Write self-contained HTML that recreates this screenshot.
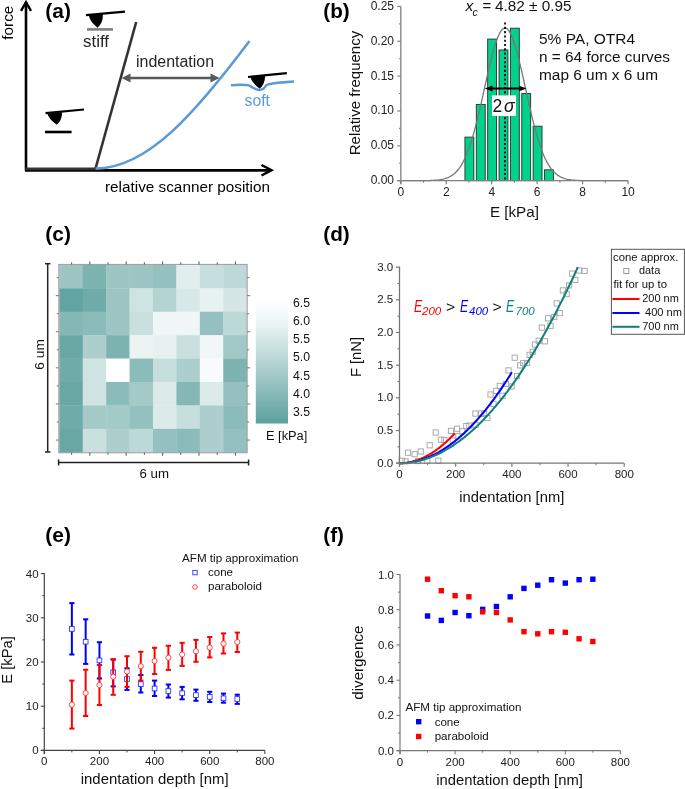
<!DOCTYPE html>
<html><head><meta charset="utf-8"><style>
html,body{margin:0;padding:0;background:#fff;width:685px;height:789px;overflow:hidden}
svg{display:block;will-change:transform}
text{font-family:"Liberation Sans", sans-serif}
</style></head><body>
<svg width="685" height="789" viewBox="0 0 685 789">
<rect width="685" height="789" fill="#fff"/>
<g id="pa">
<line x1="26" y1="170.5" x2="26" y2="2" stroke="#000" stroke-width="2.6"/>
<polyline points="21,10.8 26,2.2 31,10.8" fill="none" stroke="#000" stroke-width="2.4" stroke-linejoin="miter"/>
<line x1="25" y1="170.3" x2="271" y2="170.3" stroke="#000" stroke-width="2.7"/>
<line x1="25.5" y1="168.8" x2="96" y2="168.8" stroke="#333" stroke-width="2.7"/>
<polyline points="261.5,165 271.5,170.2 261.5,175.5" fill="none" stroke="#000" stroke-width="2.5"/>
<line x1="95.4" y1="169" x2="136.2" y2="22" stroke="#333" stroke-width="2.6"/>
<path d="M95.6,168.6 C148,168.4 196,112 249.5,41" fill="none" stroke="#5b9bd5" stroke-width="2.6"/>
<line x1="128" y1="78" x2="212" y2="78" stroke="#595959" stroke-width="2.6"/>
<polygon points="121.5,78 130.5,73.5 130.5,82.5" fill="#595959"/>
<polygon points="219.5,78 210.5,73.5 210.5,82.5" fill="#595959"/>
<text x="136" y="67" font-size="16" fill="#262626" textLength="78" lengthAdjust="spacingAndGlyphs" >indentation</text>
<line x1="86" y1="15.2" x2="125" y2="11.6" stroke="#000" stroke-width="2.2"/>
<path d="M88.8,15.3 L102.8,14.1 C103.1,20.5 101.2,24.5 97.6,27.7 C93.6,24.6 89.6,20.2 88.8,15.3 Z" fill="#000"/>
<line x1="87" y1="29.4" x2="113" y2="29.4" stroke="#7f7f7f" stroke-width="2.6"/>
<text x="83" y="47" font-size="16" fill="#262626" textLength="26" lengthAdjust="spacingAndGlyphs" >stiff</text>
<line x1="45.5" y1="113.1" x2="84" y2="109.5" stroke="#000" stroke-width="2.2"/>
<path d="M47.5,113.6 L62,112.3 C62.2,117.5 60.2,122 56.8,124.7 C52.5,122 48.5,118 47.5,113.6 Z" fill="#000"/>
<line x1="45" y1="132" x2="71.6" y2="132" stroke="#000" stroke-width="2.6"/>
<line x1="248" y1="77" x2="286.8" y2="73.2" stroke="#000" stroke-width="2.2"/>
<path d="M250.4,77 L265,75.8 C265.2,81 263.5,85.5 259.7,88.8 C255.5,85.5 251.5,81.5 250.4,77 Z" fill="#000"/>
<path d="M231,85.2 C241,84.5 247,84.5 250,86 C253,88 256,90 259.3,90 C263,90 264.7,88 266,85.5 C268,83.6 273,83.1 294,81.6" fill="none" stroke="#5b9bd5" stroke-width="2.5"/>
<text x="244.5" y="105.5" font-size="15.8" fill="#5b9bd5" textLength="25.5" lengthAdjust="spacingAndGlyphs" >soft</text>
<text x="13.3" y="22.7" font-size="14.8" fill="#000" text-anchor="middle" textLength="34" lengthAdjust="spacingAndGlyphs" transform="rotate(-90 13.3 22.7)" >force</text>
<text x="45.3" y="17.6" font-size="20" fill="#000" font-weight="bold" textLength="25.6" lengthAdjust="spacingAndGlyphs" >(a)</text>
<text x="105" y="192" font-size="15.3" fill="#000" textLength="165" lengthAdjust="spacingAndGlyphs" >relative scanner position</text>
</g>
<g id="pb">
<rect x="464.94" y="137.12" width="8.9" height="43.57" fill="#00d28c" stroke="#2d2d2d" stroke-width="0.9"/>
<rect x="476.31" y="104.44" width="8.9" height="76.26" fill="#00d28c" stroke="#2d2d2d" stroke-width="0.9"/>
<rect x="487.67" y="39.08" width="8.9" height="141.62" fill="#00d28c" stroke="#2d2d2d" stroke-width="0.9"/>
<rect x="499.04" y="49.97" width="8.9" height="130.72" fill="#00d28c" stroke="#2d2d2d" stroke-width="0.9"/>
<rect x="510.40" y="28.19" width="8.9" height="152.51" fill="#00d28c" stroke="#2d2d2d" stroke-width="0.9"/>
<rect x="521.76" y="93.55" width="8.9" height="87.15" fill="#00d28c" stroke="#2d2d2d" stroke-width="0.9"/>
<rect x="533.13" y="126.23" width="8.9" height="54.47" fill="#00d28c" stroke="#2d2d2d" stroke-width="0.9"/>
<rect x="544.50" y="169.81" width="8.9" height="10.89" fill="#00d28c" stroke="#2d2d2d" stroke-width="0.9"/>
<polyline points="400.80,180.70 401.94,180.70 403.07,180.70 404.21,180.70 405.35,180.70 406.48,180.70 407.62,180.70 408.76,180.70 409.89,180.70 411.03,180.70 412.17,180.69 413.30,180.69 414.44,180.69 415.57,180.69 416.71,180.69 417.85,180.68 418.98,180.68 420.12,180.67 421.26,180.66 422.39,180.66 423.53,180.65 424.67,180.63 425.80,180.61 426.94,180.59 428.08,180.57 429.21,180.54 430.35,180.50 431.49,180.46 432.62,180.41 433.76,180.34 434.90,180.27 436.03,180.18 437.17,180.07 438.30,179.95 439.44,179.80 440.58,179.63 441.71,179.42 442.85,179.19 443.99,178.91 445.12,178.59 446.26,178.22 447.40,177.80 448.53,177.31 449.67,176.76 450.81,176.13 451.94,175.41 453.08,174.60 454.22,173.69 455.35,172.66 456.49,171.52 457.62,170.24 458.76,168.82 459.90,167.26 461.03,165.53 462.17,163.63 463.31,161.55 464.44,159.29 465.58,156.84 466.72,154.18 467.85,151.32 468.99,148.25 470.13,144.98 471.26,141.49 472.40,137.79 473.54,133.89 474.67,129.80 475.81,125.51 476.95,121.05 478.08,116.43 479.22,111.67 480.35,106.78 481.49,101.78 482.63,96.71 483.76,91.59 484.90,86.44 486.04,81.31 487.17,76.22 488.31,71.21 489.45,66.31 490.58,61.56 491.72,57.00 492.86,52.66 493.99,48.57 495.13,44.77 496.27,41.30 497.40,38.17 498.54,35.43 499.68,33.09 500.81,31.17 501.95,29.70 503.08,28.68 504.22,28.12 505.36,28.04 506.49,28.42 507.63,29.28 508.77,30.59 509.90,32.35 511.04,34.54 512.18,37.14 513.31,40.13 514.45,43.48 515.59,47.17 516.72,51.15 517.86,55.41 519.00,59.90 520.13,64.58 521.27,69.43 522.41,74.41 523.54,79.47 524.68,84.59 525.81,89.74 526.95,94.87 528.09,99.96 529.22,104.99 530.36,109.92 531.50,114.73 532.63,119.41 533.77,123.93 534.91,128.28 536.04,132.44 537.18,136.41 538.32,140.18 539.45,143.74 540.59,147.10 541.73,150.24 542.86,153.18 544.00,155.90 545.14,158.43 546.27,160.76 547.41,162.90 548.54,164.86 549.68,166.65 550.82,168.28 551.95,169.75 553.09,171.07 554.23,172.27 555.36,173.33 556.50,174.28 557.64,175.13 558.77,175.88 559.91,176.54 561.05,177.12 562.18,177.63 563.32,178.08 564.46,178.47 565.59,178.80 566.73,179.09 567.87,179.34 569.00,179.56 570.14,179.74 571.27,179.90 572.41,180.03 573.55,180.14 574.68,180.24 575.82,180.32 576.96,180.39 578.09,180.44 579.23,180.49 580.37,180.53 581.50,180.56 582.64,180.59 583.78,180.61 584.91,180.63 586.05,180.64 587.19,180.65 588.32,180.66 589.46,180.67 590.60,180.68 591.73,180.68 592.87,180.68 594.00,180.69 595.14,180.69 596.28,180.69 597.41,180.69 598.55,180.70 599.69,180.70 600.82,180.70 601.96,180.70 603.10,180.70 604.23,180.70 605.37,180.70 606.51,180.70 607.64,180.70 608.78,180.70 609.92,180.70 611.05,180.70 612.19,180.70 613.33,180.70 614.46,180.70 615.60,180.70 616.74,180.70 617.87,180.70 619.01,180.70 620.14,180.70 621.28,180.70 622.42,180.70 623.55,180.70 624.69,180.70 625.83,180.70 626.96,180.70 628.10,180.70" fill="none" stroke="#777" stroke-width="1.3"/>
<line x1="400.8" y1="6.400000000000006" x2="400.8" y2="184.2" stroke="#808080" stroke-width="1.3"/>
<line x1="397.3" y1="180.7" x2="628.1" y2="180.7" stroke="#808080" stroke-width="1.3"/>
<line x1="397.3" y1="180.70" x2="400.8" y2="180.70" stroke="#808080" stroke-width="1.2"/>
<text x="394" y="184.10" font-size="12" fill="#222" text-anchor="end" >0.00</text>
<line x1="397.3" y1="145.84" x2="400.8" y2="145.84" stroke="#808080" stroke-width="1.2"/>
<text x="394" y="149.24" font-size="12" fill="#222" text-anchor="end" >0.05</text>
<line x1="397.3" y1="110.98" x2="400.8" y2="110.98" stroke="#808080" stroke-width="1.2"/>
<text x="394" y="114.38" font-size="12" fill="#222" text-anchor="end" >0.10</text>
<line x1="397.3" y1="76.12" x2="400.8" y2="76.12" stroke="#808080" stroke-width="1.2"/>
<text x="394" y="79.52" font-size="12" fill="#222" text-anchor="end" >0.15</text>
<line x1="397.3" y1="41.26" x2="400.8" y2="41.26" stroke="#808080" stroke-width="1.2"/>
<text x="394" y="44.66" font-size="12" fill="#222" text-anchor="end" >0.20</text>
<line x1="397.3" y1="6.40" x2="400.8" y2="6.40" stroke="#808080" stroke-width="1.2"/>
<text x="394" y="9.80" font-size="12" fill="#222" text-anchor="end" >0.25</text>
<line x1="399.0" y1="163.27" x2="400.8" y2="163.27" stroke="#808080" stroke-width="1.1"/>
<line x1="399.0" y1="128.41" x2="400.8" y2="128.41" stroke="#808080" stroke-width="1.1"/>
<line x1="399.0" y1="93.55" x2="400.8" y2="93.55" stroke="#808080" stroke-width="1.1"/>
<line x1="399.0" y1="58.69" x2="400.8" y2="58.69" stroke="#808080" stroke-width="1.1"/>
<line x1="399.0" y1="23.83" x2="400.8" y2="23.83" stroke="#808080" stroke-width="1.1"/>
<line x1="400.80" y1="180.7" x2="400.80" y2="184.2" stroke="#808080" stroke-width="1.2"/>
<text x="400.80" y="195.5" font-size="12" fill="#222" text-anchor="middle" >0</text>
<line x1="446.26" y1="180.7" x2="446.26" y2="184.2" stroke="#808080" stroke-width="1.2"/>
<text x="446.26" y="195.5" font-size="12" fill="#222" text-anchor="middle" >2</text>
<line x1="491.72" y1="180.7" x2="491.72" y2="184.2" stroke="#808080" stroke-width="1.2"/>
<text x="491.72" y="195.5" font-size="12" fill="#222" text-anchor="middle" >4</text>
<line x1="537.18" y1="180.7" x2="537.18" y2="184.2" stroke="#808080" stroke-width="1.2"/>
<text x="537.18" y="195.5" font-size="12" fill="#222" text-anchor="middle" >6</text>
<line x1="582.64" y1="180.7" x2="582.64" y2="184.2" stroke="#808080" stroke-width="1.2"/>
<text x="582.64" y="195.5" font-size="12" fill="#222" text-anchor="middle" >8</text>
<line x1="628.10" y1="180.7" x2="628.10" y2="184.2" stroke="#808080" stroke-width="1.2"/>
<text x="628.10" y="195.5" font-size="12" fill="#222" text-anchor="middle" >10</text>
<line x1="423.53" y1="180.7" x2="423.53" y2="182.7" stroke="#808080" stroke-width="1.1"/>
<line x1="468.99" y1="180.7" x2="468.99" y2="182.7" stroke="#808080" stroke-width="1.1"/>
<line x1="514.45" y1="180.7" x2="514.45" y2="182.7" stroke="#808080" stroke-width="1.1"/>
<line x1="559.91" y1="180.7" x2="559.91" y2="182.7" stroke="#808080" stroke-width="1.1"/>
<line x1="605.37" y1="180.7" x2="605.37" y2="182.7" stroke="#808080" stroke-width="1.1"/>
<line x1="505" y1="22.5" x2="505" y2="180.7" stroke="#000" stroke-width="1.7" stroke-dasharray="2.1,2.2"/>
<line x1="488" y1="88.5" x2="523" y2="88.5" stroke="#000" stroke-width="1.9"/>
<polygon points="484.8,88.5 492.5,85.6 492.5,91.4" fill="#000"/>
<polygon points="526.6,88.5 519.2,85.8 519.2,91.2" fill="#000"/>
<rect x="492" y="95.4" width="24" height="20.5" fill="#fff"/>
<text x="492.6" y="111.9" font-size="17.5" fill="#111" >2</text>
<text x="504" y="111.9" font-size="17.5" fill="#111" font-style="italic" font-family='"Liberation Serif", serif' >&#963;</text>
<text x="465.5" y="10.5" font-size="15.5" fill="#111" font-style="italic" >x</text>
<text x="472.5" y="16" font-size="10.5" fill="#111" font-style="italic" >c</text>
<text x="482.5" y="10.5" font-size="15" fill="#111" >=</text>
<text x="495" y="10.5" font-size="15.3" fill="#111" textLength="76.6" lengthAdjust="spacingAndGlyphs" >4.82 ± 0.95</text>
<text x="539" y="43.6" font-size="15.4" fill="#111" textLength="96" lengthAdjust="spacingAndGlyphs" >5% PA, OTR4</text>
<text x="539" y="61.5" font-size="15.4" fill="#111" textLength="131" lengthAdjust="spacingAndGlyphs" >n = 64 force curves</text>
<text x="539" y="79.5" font-size="15.4" fill="#111" textLength="119" lengthAdjust="spacingAndGlyphs" >map 6 um x 6 um</text>
<text x="360.3" y="93" font-size="14.8" fill="#111" text-anchor="middle" textLength="124.5" lengthAdjust="spacingAndGlyphs" transform="rotate(-90 360.3 93)" >Relative frequency</text>
<text x="323.3" y="17.6" font-size="20" fill="#000" font-weight="bold" textLength="26.4" lengthAdjust="spacingAndGlyphs" >(b)</text>
</g>
<text x="489.9" y="217.1" font-size="15" fill="#111" textLength="49" lengthAdjust="spacingAndGlyphs" >E [kPa]</text>
<g id="pc">
<rect x="59.30" y="264.90" width="23.72" height="23.72" fill="rgb(156,197,195)"/>
<rect x="82.72" y="264.90" width="23.72" height="23.72" fill="rgb(125,179,177)"/>
<rect x="106.14" y="264.90" width="23.72" height="23.72" fill="rgb(156,197,195)"/>
<rect x="129.56" y="264.90" width="23.72" height="23.72" fill="rgb(156,197,195)"/>
<rect x="152.98" y="264.90" width="23.72" height="23.72" fill="rgb(148,193,191)"/>
<rect x="176.40" y="264.90" width="23.72" height="23.72" fill="rgb(226,238,237)"/>
<rect x="199.82" y="264.90" width="23.72" height="23.72" fill="rgb(198,222,221)"/>
<rect x="223.24" y="264.90" width="23.72" height="23.72" fill="rgb(189,217,215)"/>
<rect x="59.30" y="288.32" width="23.72" height="23.72" fill="rgb(98,164,161)"/>
<rect x="82.72" y="288.32" width="23.72" height="23.72" fill="rgb(111,171,169)"/>
<rect x="106.14" y="288.32" width="23.72" height="23.72" fill="rgb(156,197,195)"/>
<rect x="129.56" y="288.32" width="23.72" height="23.72" fill="rgb(207,227,226)"/>
<rect x="152.98" y="288.32" width="23.72" height="23.72" fill="rgb(180,212,210)"/>
<rect x="176.40" y="288.32" width="23.72" height="23.72" fill="rgb(216,232,232)"/>
<rect x="199.82" y="288.32" width="23.72" height="23.72" fill="rgb(231,241,241)"/>
<rect x="223.24" y="288.32" width="23.72" height="23.72" fill="rgb(212,230,229)"/>
<rect x="59.30" y="311.74" width="23.72" height="23.72" fill="rgb(133,184,181)"/>
<rect x="82.72" y="311.74" width="23.72" height="23.72" fill="rgb(140,188,186)"/>
<rect x="106.14" y="311.74" width="23.72" height="23.72" fill="rgb(156,197,195)"/>
<rect x="129.56" y="311.74" width="23.72" height="23.72" fill="rgb(201,224,223)"/>
<rect x="152.98" y="311.74" width="23.72" height="23.72" fill="rgb(239,246,245)"/>
<rect x="176.40" y="311.74" width="23.72" height="23.72" fill="rgb(239,246,245)"/>
<rect x="199.82" y="311.74" width="23.72" height="23.72" fill="rgb(148,193,191)"/>
<rect x="223.24" y="311.74" width="23.72" height="23.72" fill="rgb(189,217,215)"/>
<rect x="59.30" y="335.16" width="23.72" height="23.72" fill="rgb(105,167,165)"/>
<rect x="82.72" y="335.16" width="23.72" height="23.72" fill="rgb(172,207,205)"/>
<rect x="106.14" y="335.16" width="23.72" height="23.72" fill="rgb(125,179,177)"/>
<rect x="129.56" y="335.16" width="23.72" height="23.72" fill="rgb(235,243,243)"/>
<rect x="152.98" y="335.16" width="23.72" height="23.72" fill="rgb(231,241,241)"/>
<rect x="176.40" y="335.16" width="23.72" height="23.72" fill="rgb(201,224,223)"/>
<rect x="199.82" y="335.16" width="23.72" height="23.72" fill="rgb(241,247,247)"/>
<rect x="223.24" y="335.16" width="23.72" height="23.72" fill="rgb(160,200,198)"/>
<rect x="59.30" y="358.58" width="23.72" height="23.72" fill="rgb(111,171,169)"/>
<rect x="82.72" y="358.58" width="23.72" height="23.72" fill="rgb(207,227,226)"/>
<rect x="106.14" y="358.58" width="23.72" height="23.72" fill="rgb(255,255,255)"/>
<rect x="129.56" y="358.58" width="23.72" height="23.72" fill="rgb(140,188,186)"/>
<rect x="152.98" y="358.58" width="23.72" height="23.72" fill="rgb(198,222,221)"/>
<rect x="176.40" y="358.58" width="23.72" height="23.72" fill="rgb(172,207,205)"/>
<rect x="199.82" y="358.58" width="23.72" height="23.72" fill="rgb(249,251,251)"/>
<rect x="223.24" y="358.58" width="23.72" height="23.72" fill="rgb(125,179,177)"/>
<rect x="59.30" y="382.00" width="23.72" height="23.72" fill="rgb(105,167,165)"/>
<rect x="82.72" y="382.00" width="23.72" height="23.72" fill="rgb(207,227,226)"/>
<rect x="106.14" y="382.00" width="23.72" height="23.72" fill="rgb(140,188,186)"/>
<rect x="129.56" y="382.00" width="23.72" height="23.72" fill="rgb(164,202,200)"/>
<rect x="152.98" y="382.00" width="23.72" height="23.72" fill="rgb(220,235,234)"/>
<rect x="176.40" y="382.00" width="23.72" height="23.72" fill="rgb(133,184,181)"/>
<rect x="199.82" y="382.00" width="23.72" height="23.72" fill="rgb(220,235,234)"/>
<rect x="223.24" y="382.00" width="23.72" height="23.72" fill="rgb(148,193,191)"/>
<rect x="59.30" y="405.42" width="23.72" height="23.72" fill="rgb(111,171,169)"/>
<rect x="82.72" y="405.42" width="23.72" height="23.72" fill="rgb(164,202,200)"/>
<rect x="106.14" y="405.42" width="23.72" height="23.72" fill="rgb(164,202,200)"/>
<rect x="129.56" y="405.42" width="23.72" height="23.72" fill="rgb(148,193,191)"/>
<rect x="152.98" y="405.42" width="23.72" height="23.72" fill="rgb(220,235,234)"/>
<rect x="176.40" y="405.42" width="23.72" height="23.72" fill="rgb(198,222,221)"/>
<rect x="199.82" y="405.42" width="23.72" height="23.72" fill="rgb(172,207,205)"/>
<rect x="223.24" y="405.42" width="23.72" height="23.72" fill="rgb(140,188,186)"/>
<rect x="59.30" y="428.84" width="23.72" height="23.72" fill="rgb(105,167,165)"/>
<rect x="82.72" y="428.84" width="23.72" height="23.72" fill="rgb(201,224,223)"/>
<rect x="106.14" y="428.84" width="23.72" height="23.72" fill="rgb(172,207,205)"/>
<rect x="129.56" y="428.84" width="23.72" height="23.72" fill="rgb(189,217,215)"/>
<rect x="152.98" y="428.84" width="23.72" height="23.72" fill="rgb(148,193,191)"/>
<rect x="176.40" y="428.84" width="23.72" height="23.72" fill="rgb(140,188,186)"/>
<rect x="199.82" y="428.84" width="23.72" height="23.72" fill="rgb(172,207,205)"/>
<rect x="223.24" y="428.84" width="23.72" height="23.72" fill="rgb(148,193,191)"/>
<rect x="58.80" y="264.40" width="188.36" height="188.36" fill="none" stroke="#9a9a9a" stroke-width="1"/>
<line x1="71.60" y1="264.4" x2="71.60" y2="262.4" stroke="#555" stroke-width="1"/>
<line x1="71.60" y1="452.76" x2="71.60" y2="454.76" stroke="#555" stroke-width="1"/>
<line x1="58.8" y1="277.60" x2="56.8" y2="277.60" stroke="#777" stroke-width="1"/>
<line x1="247.16" y1="277.60" x2="249.16" y2="277.60" stroke="#777" stroke-width="1"/>
<line x1="89.80" y1="264.4" x2="89.80" y2="261.4" stroke="#555" stroke-width="1"/>
<line x1="89.80" y1="452.76" x2="89.80" y2="455.76" stroke="#555" stroke-width="1"/>
<line x1="58.8" y1="295.65" x2="55.8" y2="295.65" stroke="#777" stroke-width="1"/>
<line x1="247.16" y1="295.65" x2="250.16" y2="295.65" stroke="#777" stroke-width="1"/>
<line x1="108.00" y1="264.4" x2="108.00" y2="262.4" stroke="#555" stroke-width="1"/>
<line x1="108.00" y1="452.76" x2="108.00" y2="454.76" stroke="#555" stroke-width="1"/>
<line x1="58.8" y1="313.70" x2="56.8" y2="313.70" stroke="#777" stroke-width="1"/>
<line x1="247.16" y1="313.70" x2="249.16" y2="313.70" stroke="#777" stroke-width="1"/>
<line x1="126.20" y1="264.4" x2="126.20" y2="261.4" stroke="#555" stroke-width="1"/>
<line x1="126.20" y1="452.76" x2="126.20" y2="455.76" stroke="#555" stroke-width="1"/>
<line x1="58.8" y1="331.75" x2="55.8" y2="331.75" stroke="#777" stroke-width="1"/>
<line x1="247.16" y1="331.75" x2="250.16" y2="331.75" stroke="#777" stroke-width="1"/>
<line x1="144.40" y1="264.4" x2="144.40" y2="262.4" stroke="#555" stroke-width="1"/>
<line x1="144.40" y1="452.76" x2="144.40" y2="454.76" stroke="#555" stroke-width="1"/>
<line x1="58.8" y1="349.80" x2="56.8" y2="349.80" stroke="#777" stroke-width="1"/>
<line x1="247.16" y1="349.80" x2="249.16" y2="349.80" stroke="#777" stroke-width="1"/>
<line x1="162.60" y1="264.4" x2="162.60" y2="261.4" stroke="#555" stroke-width="1"/>
<line x1="162.60" y1="452.76" x2="162.60" y2="455.76" stroke="#555" stroke-width="1"/>
<line x1="58.8" y1="367.85" x2="55.8" y2="367.85" stroke="#777" stroke-width="1"/>
<line x1="247.16" y1="367.85" x2="250.16" y2="367.85" stroke="#777" stroke-width="1"/>
<line x1="180.80" y1="264.4" x2="180.80" y2="262.4" stroke="#555" stroke-width="1"/>
<line x1="180.80" y1="452.76" x2="180.80" y2="454.76" stroke="#555" stroke-width="1"/>
<line x1="58.8" y1="385.90" x2="56.8" y2="385.90" stroke="#777" stroke-width="1"/>
<line x1="247.16" y1="385.90" x2="249.16" y2="385.90" stroke="#777" stroke-width="1"/>
<line x1="199.00" y1="264.4" x2="199.00" y2="261.4" stroke="#555" stroke-width="1"/>
<line x1="199.00" y1="452.76" x2="199.00" y2="455.76" stroke="#555" stroke-width="1"/>
<line x1="58.8" y1="403.95" x2="55.8" y2="403.95" stroke="#777" stroke-width="1"/>
<line x1="247.16" y1="403.95" x2="250.16" y2="403.95" stroke="#777" stroke-width="1"/>
<line x1="217.20" y1="264.4" x2="217.20" y2="262.4" stroke="#555" stroke-width="1"/>
<line x1="217.20" y1="452.76" x2="217.20" y2="454.76" stroke="#555" stroke-width="1"/>
<line x1="58.8" y1="422.00" x2="56.8" y2="422.00" stroke="#777" stroke-width="1"/>
<line x1="247.16" y1="422.00" x2="249.16" y2="422.00" stroke="#777" stroke-width="1"/>
<line x1="235.40" y1="264.4" x2="235.40" y2="261.4" stroke="#555" stroke-width="1"/>
<line x1="235.40" y1="452.76" x2="235.40" y2="455.76" stroke="#555" stroke-width="1"/>
<line x1="58.8" y1="440.05" x2="55.8" y2="440.05" stroke="#777" stroke-width="1"/>
<line x1="247.16" y1="440.05" x2="250.16" y2="440.05" stroke="#777" stroke-width="1"/>
<line x1="47.7" y1="263.7" x2="47.7" y2="452" stroke="#222" stroke-width="1.5"/>
<line x1="45" y1="263.7" x2="50.4" y2="263.7" stroke="#222" stroke-width="1.5"/>
<line x1="45" y1="452" x2="50.4" y2="452" stroke="#222" stroke-width="1.5"/>
<line x1="58.6" y1="462.5" x2="248.6" y2="462.5" stroke="#222" stroke-width="1.5"/>
<line x1="58.6" y1="459.5" x2="58.6" y2="465.5" stroke="#222" stroke-width="1.5"/>
<line x1="248.6" y1="459.5" x2="248.6" y2="465.5" stroke="#222" stroke-width="1.5"/>
<text x="43.7" y="354.4" font-size="13.5" fill="#111" text-anchor="middle" textLength="30.5" lengthAdjust="spacingAndGlyphs" transform="rotate(-90 43.7 354.4)" >6 um</text>
<text x="139.5" y="477.8" font-size="13.4" fill="#111" textLength="29.5" lengthAdjust="spacingAndGlyphs" >6 um</text>
<defs><linearGradient id="cb" x1="0" y1="0" x2="0" y2="1"><stop offset="0" stop-color="#ffffff"/><stop offset="0.2" stop-color="rgb(236,244,244)"/><stop offset="1" stop-color="rgb(92,160,157)"/></linearGradient></defs>
<rect x="255.8" y="299" width="32.2" height="124.5" fill="url(#cb)"/>
<text x="293" y="306.50" font-size="12" fill="#111" textLength="17" lengthAdjust="spacingAndGlyphs" >6.5</text>
<text x="293" y="324.80" font-size="12" fill="#111" textLength="17" lengthAdjust="spacingAndGlyphs" >6.0</text>
<text x="293" y="343.10" font-size="12" fill="#111" textLength="17" lengthAdjust="spacingAndGlyphs" >5.5</text>
<text x="293" y="361.40" font-size="12" fill="#111" textLength="17" lengthAdjust="spacingAndGlyphs" >5.0</text>
<text x="293" y="379.70" font-size="12" fill="#111" textLength="17" lengthAdjust="spacingAndGlyphs" >4.5</text>
<text x="293" y="398.00" font-size="12" fill="#111" textLength="17" lengthAdjust="spacingAndGlyphs" >4.0</text>
<text x="293" y="416.30" font-size="12" fill="#111" textLength="17" lengthAdjust="spacingAndGlyphs" >3.5</text>
<text x="266" y="440" font-size="12.8" fill="#111" textLength="41.3" lengthAdjust="spacingAndGlyphs" >E [kPa]</text>
<text x="45.3" y="240.5" font-size="20" fill="#000" font-weight="bold" textLength="25.6" lengthAdjust="spacingAndGlyphs" >(c)</text>
</g>
<g id="pd">
<rect x="399.2" y="458.2" width="5.2" height="5.2" fill="none" stroke="#a6a6a6" stroke-width="0.95"/>
<rect x="402.9" y="458.8" width="5.2" height="5.2" fill="none" stroke="#a6a6a6" stroke-width="0.95"/>
<rect x="405.4" y="450.1" width="5.2" height="5.2" fill="none" stroke="#a6a6a6" stroke-width="0.95"/>
<rect x="412.0" y="451.6" width="5.2" height="5.2" fill="none" stroke="#a6a6a6" stroke-width="0.95"/>
<rect x="415.4" y="458.4" width="5.2" height="5.2" fill="none" stroke="#a6a6a6" stroke-width="0.95"/>
<rect x="418.1" y="448.9" width="5.2" height="5.2" fill="none" stroke="#a6a6a6" stroke-width="0.95"/>
<rect x="424.7" y="458.2" width="5.2" height="5.2" fill="none" stroke="#a6a6a6" stroke-width="0.95"/>
<rect x="427.1" y="442.7" width="5.2" height="5.2" fill="none" stroke="#a6a6a6" stroke-width="0.95"/>
<rect x="433.1" y="429.9" width="5.2" height="5.2" fill="none" stroke="#a6a6a6" stroke-width="0.95"/>
<rect x="435.8" y="458.2" width="5.2" height="5.2" fill="none" stroke="#a6a6a6" stroke-width="0.95"/>
<rect x="438.3" y="437.1" width="5.2" height="5.2" fill="none" stroke="#a6a6a6" stroke-width="0.95"/>
<rect x="441.8" y="437.5" width="5.2" height="5.2" fill="none" stroke="#a6a6a6" stroke-width="0.95"/>
<rect x="448.4" y="428.3" width="5.2" height="5.2" fill="none" stroke="#a6a6a6" stroke-width="0.95"/>
<rect x="450.1" y="437.9" width="5.2" height="5.2" fill="none" stroke="#a6a6a6" stroke-width="0.95"/>
<rect x="454.5" y="426.1" width="5.2" height="5.2" fill="none" stroke="#a6a6a6" stroke-width="0.95"/>
<rect x="455.8" y="433.6" width="5.2" height="5.2" fill="none" stroke="#a6a6a6" stroke-width="0.95"/>
<rect x="459.7" y="428.7" width="5.2" height="5.2" fill="none" stroke="#a6a6a6" stroke-width="0.95"/>
<rect x="463.7" y="423.5" width="5.2" height="5.2" fill="none" stroke="#a6a6a6" stroke-width="0.95"/>
<rect x="466.7" y="423.0" width="5.2" height="5.2" fill="none" stroke="#a6a6a6" stroke-width="0.95"/>
<rect x="472.9" y="422.2" width="5.2" height="5.2" fill="none" stroke="#a6a6a6" stroke-width="0.95"/>
<rect x="472.8" y="411.0" width="5.2" height="5.2" fill="none" stroke="#a6a6a6" stroke-width="0.95"/>
<rect x="478.6" y="410.9" width="5.2" height="5.2" fill="none" stroke="#a6a6a6" stroke-width="0.95"/>
<rect x="481.5" y="411.2" width="5.2" height="5.2" fill="none" stroke="#a6a6a6" stroke-width="0.95"/>
<rect x="484.8" y="415.5" width="5.2" height="5.2" fill="none" stroke="#a6a6a6" stroke-width="0.95"/>
<rect x="487.9" y="391.9" width="5.2" height="5.2" fill="none" stroke="#a6a6a6" stroke-width="0.95"/>
<rect x="490.9" y="401.3" width="5.2" height="5.2" fill="none" stroke="#a6a6a6" stroke-width="0.95"/>
<rect x="493.7" y="388.3" width="5.2" height="5.2" fill="none" stroke="#a6a6a6" stroke-width="0.95"/>
<rect x="497.2" y="383.3" width="5.2" height="5.2" fill="none" stroke="#a6a6a6" stroke-width="0.95"/>
<rect x="499.9" y="393.2" width="5.2" height="5.2" fill="none" stroke="#a6a6a6" stroke-width="0.95"/>
<rect x="503.4" y="381.4" width="5.2" height="5.2" fill="none" stroke="#a6a6a6" stroke-width="0.95"/>
<rect x="505.9" y="367.8" width="5.2" height="5.2" fill="none" stroke="#a6a6a6" stroke-width="0.95"/>
<rect x="509.0" y="383.9" width="5.2" height="5.2" fill="none" stroke="#a6a6a6" stroke-width="0.95"/>
<rect x="512.1" y="355.1" width="5.2" height="5.2" fill="none" stroke="#a6a6a6" stroke-width="0.95"/>
<rect x="514.5" y="373.4" width="5.2" height="5.2" fill="none" stroke="#a6a6a6" stroke-width="0.95"/>
<rect x="517.6" y="362.8" width="5.2" height="5.2" fill="none" stroke="#a6a6a6" stroke-width="0.95"/>
<rect x="520.7" y="360.4" width="5.2" height="5.2" fill="none" stroke="#a6a6a6" stroke-width="0.95"/>
<rect x="524.4" y="360.4" width="5.2" height="5.2" fill="none" stroke="#a6a6a6" stroke-width="0.95"/>
<rect x="527.0" y="352.3" width="5.2" height="5.2" fill="none" stroke="#a6a6a6" stroke-width="0.95"/>
<rect x="530.1" y="349.2" width="5.2" height="5.2" fill="none" stroke="#a6a6a6" stroke-width="0.95"/>
<rect x="532.4" y="341.9" width="5.2" height="5.2" fill="none" stroke="#a6a6a6" stroke-width="0.95"/>
<rect x="536.1" y="338.2" width="5.2" height="5.2" fill="none" stroke="#a6a6a6" stroke-width="0.95"/>
<rect x="542.3" y="338.7" width="5.2" height="5.2" fill="none" stroke="#a6a6a6" stroke-width="0.95"/>
<rect x="539.2" y="325.0" width="5.2" height="5.2" fill="none" stroke="#a6a6a6" stroke-width="0.95"/>
<rect x="547.9" y="323.2" width="5.2" height="5.2" fill="none" stroke="#a6a6a6" stroke-width="0.95"/>
<rect x="545.4" y="315.7" width="5.2" height="5.2" fill="none" stroke="#a6a6a6" stroke-width="0.95"/>
<rect x="551.6" y="314.5" width="5.2" height="5.2" fill="none" stroke="#a6a6a6" stroke-width="0.95"/>
<rect x="557.2" y="310.5" width="5.2" height="5.2" fill="none" stroke="#a6a6a6" stroke-width="0.95"/>
<rect x="554.1" y="300.8" width="5.2" height="5.2" fill="none" stroke="#a6a6a6" stroke-width="0.95"/>
<rect x="560.3" y="287.8" width="5.2" height="5.2" fill="none" stroke="#a6a6a6" stroke-width="0.95"/>
<rect x="564.0" y="291.5" width="5.2" height="5.2" fill="none" stroke="#a6a6a6" stroke-width="0.95"/>
<rect x="566.5" y="282.8" width="5.2" height="5.2" fill="none" stroke="#a6a6a6" stroke-width="0.95"/>
<rect x="572.7" y="277.3" width="5.2" height="5.2" fill="none" stroke="#a6a6a6" stroke-width="0.95"/>
<rect x="569.6" y="271.0" width="5.2" height="5.2" fill="none" stroke="#a6a6a6" stroke-width="0.95"/>
<rect x="576.4" y="267.9" width="5.2" height="5.2" fill="none" stroke="#a6a6a6" stroke-width="0.95"/>
<rect x="582.0" y="268.3" width="5.2" height="5.2" fill="none" stroke="#a6a6a6" stroke-width="0.95"/>
<polyline points="399.50,463.20 400.42,463.19 401.34,463.17 402.27,463.13 403.19,463.07 404.11,462.99 405.03,462.90 405.96,462.79 406.88,462.67 407.80,462.53 408.72,462.37 409.65,462.19 410.57,462.00 411.49,461.80 412.41,461.57 413.33,461.33 414.26,461.07 415.18,460.80 416.10,460.51 417.02,460.20 417.95,459.88 418.87,459.54 419.79,459.18 420.71,458.81 421.63,458.42 422.56,458.01 423.48,457.59 424.40,457.14 425.32,456.69 426.25,456.21 427.17,455.72 428.09,455.22 429.01,454.69 429.94,454.15 430.86,453.60 431.78,453.03 432.70,452.44 433.62,451.83 434.55,451.21 435.47,450.57 436.39,449.91 437.31,449.24 438.24,448.55 439.16,447.84 440.08,447.12 441.00,446.38 441.93,445.62 442.85,444.85 443.77,444.06 444.69,443.26 445.61,442.44 446.54,441.60 447.46,440.74 448.38,439.87 449.30,438.98 450.23,438.07 451.15,437.15 452.07,436.21 452.99,435.26 453.92,434.29 454.84,433.30" fill="none" stroke="#ff0000" stroke-width="2"/>
<polyline points="399.50,463.20 401.37,463.17 403.25,463.10 405.12,462.97 406.99,462.80 408.86,462.57 410.74,462.29 412.61,461.96 414.48,461.58 416.35,461.16 418.23,460.68 420.10,460.15 421.97,459.57 423.84,458.93 425.72,458.25 427.59,457.52 429.46,456.74 431.34,455.91 433.21,455.02 435.08,454.09 436.95,453.10 438.83,452.07 440.70,450.98 442.57,449.85 444.44,448.66 446.32,447.43 448.19,446.14 450.06,444.80 451.93,443.41 453.81,441.97 455.68,440.48 457.55,438.94 459.43,437.35 461.30,435.71 463.17,434.02 465.04,432.28 466.92,430.49 468.79,428.65 470.66,426.75 472.53,424.81 474.41,422.82 476.28,420.77 478.15,418.68 480.02,416.53 481.90,414.34 483.77,412.09 485.64,409.79 487.52,407.45 489.39,405.05 491.26,402.60 493.13,400.10 495.01,397.55 496.88,394.95 498.75,392.30 500.62,389.60 502.50,386.85 504.37,384.05 506.24,381.20 508.11,378.29 509.99,375.34 511.86,372.34" fill="none" stroke="#0000ff" stroke-width="2"/>
<polyline points="399.50,463.20 402.47,463.15 405.45,462.98 408.42,462.71 411.39,462.33 414.36,461.84 417.34,461.24 420.31,460.53 423.28,459.71 426.26,458.79 429.23,457.75 432.20,456.61 435.17,455.36 438.15,454.00 441.12,452.53 444.09,450.95 447.07,449.26 450.04,447.46 453.01,445.56 455.98,443.54 458.96,441.42 461.93,439.18 464.90,436.84 467.88,434.39 470.85,431.83 473.82,429.16 476.79,426.39 479.77,423.50 482.74,420.50 485.71,417.40 488.69,414.19 491.66,410.87 494.63,407.43 497.60,403.89 500.58,400.25 503.55,396.49 506.52,392.62 509.50,388.65 512.47,384.56 515.44,380.37 518.41,376.07 521.39,371.66 524.36,367.14 527.33,362.51 530.31,357.77 533.28,352.92 536.25,347.97 539.22,342.90 542.20,337.73 545.17,332.45 548.14,327.05 551.12,321.55 554.09,315.94 557.06,310.23 560.03,304.40 563.01,298.46 565.98,292.42 568.95,286.27 571.93,280.00 574.90,273.63 577.87,267.15" fill="none" stroke="#0f7f7f" stroke-width="2"/>
<line x1="399.5" y1="266.65" x2="399.5" y2="466.7" stroke="#777" stroke-width="1.3"/>
<line x1="396.0" y1="463.2" x2="624.22" y2="463.2" stroke="#777" stroke-width="1.3"/>
<line x1="396.0" y1="463.20" x2="399.5" y2="463.20" stroke="#777" stroke-width="1.2"/>
<text x="393.2" y="466.80" font-size="11.5" fill="#222" text-anchor="end" >0.0</text>
<line x1="396.0" y1="430.52" x2="399.5" y2="430.52" stroke="#777" stroke-width="1.2"/>
<text x="393.2" y="434.12" font-size="11.5" fill="#222" text-anchor="end" >0.5</text>
<line x1="396.0" y1="397.85" x2="399.5" y2="397.85" stroke="#777" stroke-width="1.2"/>
<text x="393.2" y="401.45" font-size="11.5" fill="#222" text-anchor="end" >1.0</text>
<line x1="396.0" y1="365.18" x2="399.5" y2="365.18" stroke="#777" stroke-width="1.2"/>
<text x="393.2" y="368.78" font-size="11.5" fill="#222" text-anchor="end" >1.5</text>
<line x1="396.0" y1="332.50" x2="399.5" y2="332.50" stroke="#777" stroke-width="1.2"/>
<text x="393.2" y="336.10" font-size="11.5" fill="#222" text-anchor="end" >2.0</text>
<line x1="396.0" y1="299.82" x2="399.5" y2="299.82" stroke="#777" stroke-width="1.2"/>
<text x="393.2" y="303.43" font-size="11.5" fill="#222" text-anchor="end" >2.5</text>
<line x1="396.0" y1="267.15" x2="399.5" y2="267.15" stroke="#777" stroke-width="1.2"/>
<text x="393.2" y="270.75" font-size="11.5" fill="#222" text-anchor="end" >3.0</text>
<line x1="397.5" y1="446.86" x2="399.5" y2="446.86" stroke="#777" stroke-width="1.1"/>
<line x1="397.5" y1="414.19" x2="399.5" y2="414.19" stroke="#777" stroke-width="1.1"/>
<line x1="397.5" y1="381.51" x2="399.5" y2="381.51" stroke="#777" stroke-width="1.1"/>
<line x1="397.5" y1="348.84" x2="399.5" y2="348.84" stroke="#777" stroke-width="1.1"/>
<line x1="397.5" y1="316.16" x2="399.5" y2="316.16" stroke="#777" stroke-width="1.1"/>
<line x1="397.5" y1="283.49" x2="399.5" y2="283.49" stroke="#777" stroke-width="1.1"/>
<line x1="399.50" y1="463.2" x2="399.50" y2="466.7" stroke="#777" stroke-width="1.2"/>
<text x="399.50" y="477.8" font-size="11.5" fill="#222" text-anchor="middle" >0</text>
<line x1="455.68" y1="463.2" x2="455.68" y2="466.7" stroke="#777" stroke-width="1.2"/>
<text x="455.68" y="477.8" font-size="11.5" fill="#222" text-anchor="middle" >200</text>
<line x1="511.86" y1="463.2" x2="511.86" y2="466.7" stroke="#777" stroke-width="1.2"/>
<text x="511.86" y="477.8" font-size="11.5" fill="#222" text-anchor="middle" >400</text>
<line x1="568.04" y1="463.2" x2="568.04" y2="466.7" stroke="#777" stroke-width="1.2"/>
<text x="568.04" y="477.8" font-size="11.5" fill="#222" text-anchor="middle" >600</text>
<line x1="624.22" y1="463.2" x2="624.22" y2="466.7" stroke="#777" stroke-width="1.2"/>
<text x="624.22" y="477.8" font-size="11.5" fill="#222" text-anchor="middle" >800</text>
<line x1="427.59" y1="463.2" x2="427.59" y2="465.2" stroke="#777" stroke-width="1.1"/>
<line x1="483.77" y1="463.2" x2="483.77" y2="465.2" stroke="#777" stroke-width="1.1"/>
<line x1="539.95" y1="463.2" x2="539.95" y2="465.2" stroke="#777" stroke-width="1.1"/>
<line x1="596.13" y1="463.2" x2="596.13" y2="465.2" stroke="#777" stroke-width="1.1"/>
<text x="459.3" y="501.7" font-size="14.6" fill="#111" textLength="105" lengthAdjust="spacingAndGlyphs" >indentation [nm]</text>
<text x="360.8" y="357" font-size="14.4" fill="#111" text-anchor="middle" textLength="40.2" lengthAdjust="spacingAndGlyphs" transform="rotate(-90 360.8 357)" >F [nN]</text>
<text x="413.9" y="312" font-size="16.5" fill="#ff0000" font-style="italic" textLength="8.2" lengthAdjust="spacingAndGlyphs" >E</text>
<text x="422" y="315" font-size="11.5" fill="#ff0000" font-style="italic" textLength="19.2" lengthAdjust="spacingAndGlyphs" >200</text>
<text x="446" y="312" font-size="15" fill="#111" textLength="9.2" lengthAdjust="spacingAndGlyphs" >&gt;</text>
<text x="460" y="312" font-size="16.5" fill="#0000ff" font-style="italic" textLength="8.2" lengthAdjust="spacingAndGlyphs" >E</text>
<text x="469" y="315" font-size="11.5" fill="#0000ff" font-style="italic" textLength="19.2" lengthAdjust="spacingAndGlyphs" >400</text>
<text x="492.6" y="312" font-size="15" fill="#111" textLength="9.2" lengthAdjust="spacingAndGlyphs" >&gt;</text>
<text x="506" y="312" font-size="16.5" fill="#0f7f7f" font-style="italic" textLength="8.2" lengthAdjust="spacingAndGlyphs" >E</text>
<text x="515.5" y="315" font-size="11.5" fill="#0f7f7f" font-style="italic" textLength="19.2" lengthAdjust="spacingAndGlyphs" >700</text>
<rect x="611.4" y="249.3" width="73" height="85" fill="#fff" stroke="#555" stroke-width="1"/>
<text x="613" y="260.5" font-size="11.3" fill="#111" textLength="65.4" lengthAdjust="spacingAndGlyphs" >cone approx.</text>
<rect x="623.8" y="268.5" width="5" height="5" fill="none" stroke="#9a9a9a" stroke-width="1"/>
<text x="639" y="274.2" font-size="11.3" fill="#111" textLength="21.2" lengthAdjust="spacingAndGlyphs" >data</text>
<text x="613.4" y="288.4" font-size="11.3" fill="#111" textLength="53.6" lengthAdjust="spacingAndGlyphs" >fit for up to</text>
<line x1="612.4" y1="299" x2="639.5" y2="299" stroke="#ff0000" stroke-width="2"/>
<text x="642.2" y="302.3" font-size="11.3" fill="#111" textLength="36.6" lengthAdjust="spacingAndGlyphs" >200 nm</text>
<line x1="612.4" y1="313" x2="639.5" y2="313" stroke="#0000ff" stroke-width="2"/>
<text x="645" y="316.3" font-size="11.3" fill="#111" textLength="36.9" lengthAdjust="spacingAndGlyphs" >400 nm</text>
<line x1="612.4" y1="326.8" x2="639.5" y2="326.8" stroke="#0f7f7f" stroke-width="2"/>
<text x="642.2" y="330.3" font-size="11.3" fill="#111" textLength="36.6" lengthAdjust="spacingAndGlyphs" >700 nm</text>
<text x="323.3" y="240.5" font-size="20" fill="#000" font-weight="bold" textLength="26.4" lengthAdjust="spacingAndGlyphs" >(d)</text>
</g>
<g id="pe">
<line x1="44.3" y1="573.10" x2="44.3" y2="753.9" stroke="#444" stroke-width="1.2"/>
<line x1="40.8" y1="750.4" x2="264.86" y2="750.4" stroke="#444" stroke-width="1.2"/>
<line x1="40.8" y1="750.40" x2="44.3" y2="750.40" stroke="#444" stroke-width="1.1"/>
<text x="38.6" y="754.40" font-size="11.5" fill="#222" text-anchor="end" >0</text>
<line x1="40.8" y1="706.20" x2="44.3" y2="706.20" stroke="#444" stroke-width="1.1"/>
<text x="38.6" y="710.20" font-size="11.5" fill="#222" text-anchor="end" >10</text>
<line x1="40.8" y1="662.00" x2="44.3" y2="662.00" stroke="#444" stroke-width="1.1"/>
<text x="38.6" y="666.00" font-size="11.5" fill="#222" text-anchor="end" >20</text>
<line x1="40.8" y1="617.80" x2="44.3" y2="617.80" stroke="#444" stroke-width="1.1"/>
<text x="38.6" y="621.80" font-size="11.5" fill="#222" text-anchor="end" >30</text>
<line x1="40.8" y1="573.60" x2="44.3" y2="573.60" stroke="#444" stroke-width="1.1"/>
<text x="38.6" y="577.60" font-size="11.5" fill="#222" text-anchor="end" >40</text>
<line x1="42.3" y1="728.30" x2="44.3" y2="728.30" stroke="#444" stroke-width="1"/>
<line x1="42.3" y1="684.10" x2="44.3" y2="684.10" stroke="#444" stroke-width="1"/>
<line x1="42.3" y1="639.90" x2="44.3" y2="639.90" stroke="#444" stroke-width="1"/>
<line x1="42.3" y1="595.70" x2="44.3" y2="595.70" stroke="#444" stroke-width="1"/>
<line x1="44.30" y1="750.4" x2="44.30" y2="753.9" stroke="#444" stroke-width="1.1"/>
<text x="44.30" y="765" font-size="11.5" fill="#222" text-anchor="middle" >0</text>
<line x1="99.44" y1="750.4" x2="99.44" y2="753.9" stroke="#444" stroke-width="1.1"/>
<text x="99.44" y="765" font-size="11.5" fill="#222" text-anchor="middle" >200</text>
<line x1="154.58" y1="750.4" x2="154.58" y2="753.9" stroke="#444" stroke-width="1.1"/>
<text x="154.58" y="765" font-size="11.5" fill="#222" text-anchor="middle" >400</text>
<line x1="209.72" y1="750.4" x2="209.72" y2="753.9" stroke="#444" stroke-width="1.1"/>
<text x="209.72" y="765" font-size="11.5" fill="#222" text-anchor="middle" >600</text>
<line x1="264.86" y1="750.4" x2="264.86" y2="753.9" stroke="#444" stroke-width="1.1"/>
<text x="264.86" y="765" font-size="11.5" fill="#222" text-anchor="middle" >800</text>
<line x1="71.87" y1="750.4" x2="71.87" y2="752.4" stroke="#444" stroke-width="1"/>
<line x1="127.01" y1="750.4" x2="127.01" y2="752.4" stroke="#444" stroke-width="1"/>
<line x1="182.15" y1="750.4" x2="182.15" y2="752.4" stroke="#444" stroke-width="1"/>
<line x1="237.29" y1="750.4" x2="237.29" y2="752.4" stroke="#444" stroke-width="1"/>
<line x1="71.87" y1="603.1" x2="71.87" y2="654.5" stroke="#0000ff" stroke-width="2"/>
<line x1="69.27" y1="603.1" x2="74.47" y2="603.1" stroke="#0000ff" stroke-width="2"/>
<line x1="69.27" y1="654.5" x2="74.47" y2="654.5" stroke="#0000ff" stroke-width="2"/>
<line x1="85.66" y1="619.3" x2="85.66" y2="663.9" stroke="#0000ff" stroke-width="2"/>
<line x1="83.06" y1="619.3" x2="88.25" y2="619.3" stroke="#0000ff" stroke-width="2"/>
<line x1="83.06" y1="663.9" x2="88.25" y2="663.9" stroke="#0000ff" stroke-width="2"/>
<line x1="99.44" y1="642.2" x2="99.44" y2="678.5" stroke="#0000ff" stroke-width="2"/>
<line x1="96.84" y1="642.2" x2="102.04" y2="642.2" stroke="#0000ff" stroke-width="2"/>
<line x1="96.84" y1="678.5" x2="102.04" y2="678.5" stroke="#0000ff" stroke-width="2"/>
<line x1="113.22" y1="659.6" x2="113.22" y2="686.4" stroke="#0000ff" stroke-width="2"/>
<line x1="110.62" y1="659.6" x2="115.82" y2="659.6" stroke="#0000ff" stroke-width="2"/>
<line x1="110.62" y1="686.4" x2="115.82" y2="686.4" stroke="#0000ff" stroke-width="2"/>
<line x1="127.01" y1="668.3" x2="127.01" y2="689.9" stroke="#0000ff" stroke-width="2"/>
<line x1="124.41" y1="668.3" x2="129.61" y2="668.3" stroke="#0000ff" stroke-width="2"/>
<line x1="124.41" y1="689.9" x2="129.61" y2="689.9" stroke="#0000ff" stroke-width="2"/>
<line x1="140.80" y1="675" x2="140.80" y2="692.5" stroke="#0000ff" stroke-width="2"/>
<line x1="138.20" y1="675" x2="143.40" y2="675" stroke="#0000ff" stroke-width="2"/>
<line x1="138.20" y1="692.5" x2="143.40" y2="692.5" stroke="#0000ff" stroke-width="2"/>
<line x1="154.58" y1="680.6" x2="154.58" y2="696" stroke="#0000ff" stroke-width="2"/>
<line x1="151.98" y1="680.6" x2="157.18" y2="680.6" stroke="#0000ff" stroke-width="2"/>
<line x1="151.98" y1="696" x2="157.18" y2="696" stroke="#0000ff" stroke-width="2"/>
<line x1="168.37" y1="684.5" x2="168.37" y2="697.6" stroke="#0000ff" stroke-width="2"/>
<line x1="165.77" y1="684.5" x2="170.97" y2="684.5" stroke="#0000ff" stroke-width="2"/>
<line x1="165.77" y1="697.6" x2="170.97" y2="697.6" stroke="#0000ff" stroke-width="2"/>
<line x1="182.15" y1="686.9" x2="182.15" y2="699.3" stroke="#0000ff" stroke-width="2"/>
<line x1="179.55" y1="686.9" x2="184.75" y2="686.9" stroke="#0000ff" stroke-width="2"/>
<line x1="179.55" y1="699.3" x2="184.75" y2="699.3" stroke="#0000ff" stroke-width="2"/>
<line x1="195.94" y1="689.6" x2="195.94" y2="700.8" stroke="#0000ff" stroke-width="2"/>
<line x1="193.34" y1="689.6" x2="198.53" y2="689.6" stroke="#0000ff" stroke-width="2"/>
<line x1="193.34" y1="700.8" x2="198.53" y2="700.8" stroke="#0000ff" stroke-width="2"/>
<line x1="209.72" y1="691.8" x2="209.72" y2="702" stroke="#0000ff" stroke-width="2"/>
<line x1="207.12" y1="691.8" x2="212.32" y2="691.8" stroke="#0000ff" stroke-width="2"/>
<line x1="207.12" y1="702" x2="212.32" y2="702" stroke="#0000ff" stroke-width="2"/>
<line x1="223.50" y1="693.6" x2="223.50" y2="702.7" stroke="#0000ff" stroke-width="2"/>
<line x1="220.91" y1="693.6" x2="226.10" y2="693.6" stroke="#0000ff" stroke-width="2"/>
<line x1="220.91" y1="702.7" x2="226.10" y2="702.7" stroke="#0000ff" stroke-width="2"/>
<line x1="237.29" y1="694.7" x2="237.29" y2="703.9" stroke="#0000ff" stroke-width="2"/>
<line x1="234.69" y1="694.7" x2="239.89" y2="694.7" stroke="#0000ff" stroke-width="2"/>
<line x1="234.69" y1="703.9" x2="239.89" y2="703.9" stroke="#0000ff" stroke-width="2"/>
<rect x="69.52" y="626.55" width="4.7" height="4.7" fill="#fff" stroke="#2a2aff" stroke-width="0.85"/>
<rect x="83.31" y="639.35" width="4.7" height="4.7" fill="#fff" stroke="#2a2aff" stroke-width="0.85"/>
<rect x="97.09" y="658.05" width="4.7" height="4.7" fill="#fff" stroke="#2a2aff" stroke-width="0.85"/>
<rect x="110.88" y="669.95" width="4.7" height="4.7" fill="#fff" stroke="#2a2aff" stroke-width="0.85"/>
<rect x="124.66" y="676.65" width="4.7" height="4.7" fill="#fff" stroke="#2a2aff" stroke-width="0.85"/>
<rect x="138.45" y="681.75" width="4.7" height="4.7" fill="#fff" stroke="#2a2aff" stroke-width="0.85"/>
<rect x="152.23" y="686.15" width="4.7" height="4.7" fill="#fff" stroke="#2a2aff" stroke-width="0.85"/>
<rect x="166.02" y="688.65" width="4.7" height="4.7" fill="#fff" stroke="#2a2aff" stroke-width="0.85"/>
<rect x="179.80" y="690.85" width="4.7" height="4.7" fill="#fff" stroke="#2a2aff" stroke-width="0.85"/>
<rect x="193.59" y="692.75" width="4.7" height="4.7" fill="#fff" stroke="#2a2aff" stroke-width="0.85"/>
<rect x="207.37" y="694.55" width="4.7" height="4.7" fill="#fff" stroke="#2a2aff" stroke-width="0.85"/>
<rect x="221.16" y="695.95" width="4.7" height="4.7" fill="#fff" stroke="#2a2aff" stroke-width="0.85"/>
<rect x="234.94" y="696.65" width="4.7" height="4.7" fill="#fff" stroke="#2a2aff" stroke-width="0.85"/>
<line x1="71.87" y1="680.6" x2="71.87" y2="728.6" stroke="#ff0000" stroke-width="2"/>
<line x1="69.27" y1="680.6" x2="74.47" y2="680.6" stroke="#ff0000" stroke-width="2"/>
<line x1="69.27" y1="728.6" x2="74.47" y2="728.6" stroke="#ff0000" stroke-width="2"/>
<line x1="85.66" y1="669.7" x2="85.66" y2="716" stroke="#ff0000" stroke-width="2"/>
<line x1="83.06" y1="669.7" x2="88.25" y2="669.7" stroke="#ff0000" stroke-width="2"/>
<line x1="83.06" y1="716" x2="88.25" y2="716" stroke="#ff0000" stroke-width="2"/>
<line x1="99.44" y1="665" x2="99.44" y2="705" stroke="#ff0000" stroke-width="2"/>
<line x1="96.84" y1="665" x2="102.04" y2="665" stroke="#ff0000" stroke-width="2"/>
<line x1="96.84" y1="705" x2="102.04" y2="705" stroke="#ff0000" stroke-width="2"/>
<line x1="113.22" y1="659.2" x2="113.22" y2="694.8" stroke="#ff0000" stroke-width="2"/>
<line x1="110.62" y1="659.2" x2="115.82" y2="659.2" stroke="#ff0000" stroke-width="2"/>
<line x1="110.62" y1="694.8" x2="115.82" y2="694.8" stroke="#ff0000" stroke-width="2"/>
<line x1="127.01" y1="656.2" x2="127.01" y2="686.9" stroke="#ff0000" stroke-width="2"/>
<line x1="124.41" y1="656.2" x2="129.61" y2="656.2" stroke="#ff0000" stroke-width="2"/>
<line x1="124.41" y1="686.9" x2="129.61" y2="686.9" stroke="#ff0000" stroke-width="2"/>
<line x1="140.80" y1="651.8" x2="140.80" y2="680.6" stroke="#ff0000" stroke-width="2"/>
<line x1="138.20" y1="651.8" x2="143.40" y2="651.8" stroke="#ff0000" stroke-width="2"/>
<line x1="138.20" y1="680.6" x2="143.40" y2="680.6" stroke="#ff0000" stroke-width="2"/>
<line x1="154.58" y1="647.8" x2="154.58" y2="674.1" stroke="#ff0000" stroke-width="2"/>
<line x1="151.98" y1="647.8" x2="157.18" y2="647.8" stroke="#ff0000" stroke-width="2"/>
<line x1="151.98" y1="674.1" x2="157.18" y2="674.1" stroke="#ff0000" stroke-width="2"/>
<line x1="168.37" y1="645.8" x2="168.37" y2="669.9" stroke="#ff0000" stroke-width="2"/>
<line x1="165.77" y1="645.8" x2="170.97" y2="645.8" stroke="#ff0000" stroke-width="2"/>
<line x1="165.77" y1="669.9" x2="170.97" y2="669.9" stroke="#ff0000" stroke-width="2"/>
<line x1="182.15" y1="642.8" x2="182.15" y2="665.9" stroke="#ff0000" stroke-width="2"/>
<line x1="179.55" y1="642.8" x2="184.75" y2="642.8" stroke="#ff0000" stroke-width="2"/>
<line x1="179.55" y1="665.9" x2="184.75" y2="665.9" stroke="#ff0000" stroke-width="2"/>
<line x1="195.94" y1="639.9" x2="195.94" y2="661.8" stroke="#ff0000" stroke-width="2"/>
<line x1="193.34" y1="639.9" x2="198.53" y2="639.9" stroke="#ff0000" stroke-width="2"/>
<line x1="193.34" y1="661.8" x2="198.53" y2="661.8" stroke="#ff0000" stroke-width="2"/>
<line x1="209.72" y1="637" x2="209.72" y2="657.4" stroke="#ff0000" stroke-width="2"/>
<line x1="207.12" y1="637" x2="212.32" y2="637" stroke="#ff0000" stroke-width="2"/>
<line x1="207.12" y1="657.4" x2="212.32" y2="657.4" stroke="#ff0000" stroke-width="2"/>
<line x1="223.50" y1="633.4" x2="223.50" y2="653.5" stroke="#ff0000" stroke-width="2"/>
<line x1="220.91" y1="633.4" x2="226.10" y2="633.4" stroke="#ff0000" stroke-width="2"/>
<line x1="220.91" y1="653.5" x2="226.10" y2="653.5" stroke="#ff0000" stroke-width="2"/>
<line x1="237.29" y1="632.6" x2="237.29" y2="652" stroke="#ff0000" stroke-width="2"/>
<line x1="234.69" y1="632.6" x2="239.89" y2="632.6" stroke="#ff0000" stroke-width="2"/>
<line x1="234.69" y1="652" x2="239.89" y2="652" stroke="#ff0000" stroke-width="2"/>
<circle cx="71.87" cy="704.6" r="2.6" fill="#fff" stroke="#ff2a2a" stroke-width="0.85"/>
<circle cx="85.66" cy="693" r="2.6" fill="#fff" stroke="#ff2a2a" stroke-width="0.85"/>
<circle cx="99.44" cy="685" r="2.6" fill="#fff" stroke="#ff2a2a" stroke-width="0.85"/>
<circle cx="113.22" cy="676.7" r="2.6" fill="#fff" stroke="#ff2a2a" stroke-width="0.85"/>
<circle cx="127.01" cy="671.5" r="2.6" fill="#fff" stroke="#ff2a2a" stroke-width="0.85"/>
<circle cx="140.80" cy="666.2" r="2.6" fill="#fff" stroke="#ff2a2a" stroke-width="0.85"/>
<circle cx="154.58" cy="661" r="2.6" fill="#fff" stroke="#ff2a2a" stroke-width="0.85"/>
<circle cx="168.37" cy="657.7" r="2.6" fill="#fff" stroke="#ff2a2a" stroke-width="0.85"/>
<circle cx="182.15" cy="654.5" r="2.6" fill="#fff" stroke="#ff2a2a" stroke-width="0.85"/>
<circle cx="195.94" cy="651.2" r="2.6" fill="#fff" stroke="#ff2a2a" stroke-width="0.85"/>
<circle cx="209.72" cy="647.5" r="2.6" fill="#fff" stroke="#ff2a2a" stroke-width="0.85"/>
<circle cx="223.50" cy="643.6" r="2.6" fill="#fff" stroke="#ff2a2a" stroke-width="0.85"/>
<circle cx="237.29" cy="642.1" r="2.6" fill="#fff" stroke="#ff2a2a" stroke-width="0.85"/>
<text x="182" y="562" font-size="11.6" fill="#111" textLength="116.5" lengthAdjust="spacingAndGlyphs" >AFM tip approximation</text>
<rect x="192.8" y="570.4" width="4.4" height="4.4" fill="none" stroke="#3333ff" stroke-width="0.9"/>
<text x="208" y="576.4" font-size="11.6" fill="#111" textLength="25" lengthAdjust="spacingAndGlyphs" >cone</text>
<circle cx="195" cy="587" r="2.3" fill="none" stroke="#ff3333" stroke-width="0.9"/>
<text x="208" y="590.4" font-size="11.6" fill="#111" textLength="54" lengthAdjust="spacingAndGlyphs" >paraboloid</text>
<text x="80.7" y="783.6" font-size="14.9" fill="#111" textLength="148" lengthAdjust="spacingAndGlyphs" >indentation depth [nm]</text>
<text x="12.2" y="660" font-size="14.4" fill="#111" text-anchor="middle" textLength="47.6" lengthAdjust="spacingAndGlyphs" transform="rotate(-90 12.2 660)" >E [kPa]</text>
<text x="45.3" y="542.2" font-size="20" fill="#000" font-weight="bold" textLength="25.6" lengthAdjust="spacingAndGlyphs" >(e)</text>
</g>
<g id="pf">
<line x1="400" y1="574.00" x2="400" y2="754.2" stroke="#777" stroke-width="1.2"/>
<line x1="396.5" y1="750.7" x2="620.40" y2="750.7" stroke="#777" stroke-width="1.2"/>
<line x1="396.5" y1="750.70" x2="400" y2="750.70" stroke="#777" stroke-width="1.1"/>
<text x="393.9" y="754.70" font-size="11.5" fill="#222" text-anchor="end" >0.0</text>
<line x1="396.5" y1="715.46" x2="400" y2="715.46" stroke="#777" stroke-width="1.1"/>
<text x="393.9" y="719.46" font-size="11.5" fill="#222" text-anchor="end" >0.2</text>
<line x1="396.5" y1="680.22" x2="400" y2="680.22" stroke="#777" stroke-width="1.1"/>
<text x="393.9" y="684.22" font-size="11.5" fill="#222" text-anchor="end" >0.4</text>
<line x1="396.5" y1="644.98" x2="400" y2="644.98" stroke="#777" stroke-width="1.1"/>
<text x="393.9" y="648.98" font-size="11.5" fill="#222" text-anchor="end" >0.6</text>
<line x1="396.5" y1="609.74" x2="400" y2="609.74" stroke="#777" stroke-width="1.1"/>
<text x="393.9" y="613.74" font-size="11.5" fill="#222" text-anchor="end" >0.8</text>
<line x1="396.5" y1="574.50" x2="400" y2="574.50" stroke="#777" stroke-width="1.1"/>
<text x="393.9" y="578.50" font-size="11.5" fill="#222" text-anchor="end" >1.0</text>
<line x1="398" y1="733.08" x2="400" y2="733.08" stroke="#777" stroke-width="1"/>
<line x1="398" y1="697.84" x2="400" y2="697.84" stroke="#777" stroke-width="1"/>
<line x1="398" y1="662.60" x2="400" y2="662.60" stroke="#777" stroke-width="1"/>
<line x1="398" y1="627.36" x2="400" y2="627.36" stroke="#777" stroke-width="1"/>
<line x1="398" y1="592.12" x2="400" y2="592.12" stroke="#777" stroke-width="1"/>
<line x1="400.00" y1="750.7" x2="400.00" y2="754.2" stroke="#777" stroke-width="1.1"/>
<text x="400.00" y="765.8" font-size="11.5" fill="#222" text-anchor="middle" >0</text>
<line x1="455.10" y1="750.7" x2="455.10" y2="754.2" stroke="#777" stroke-width="1.1"/>
<text x="455.10" y="765.8" font-size="11.5" fill="#222" text-anchor="middle" >200</text>
<line x1="510.20" y1="750.7" x2="510.20" y2="754.2" stroke="#777" stroke-width="1.1"/>
<text x="510.20" y="765.8" font-size="11.5" fill="#222" text-anchor="middle" >400</text>
<line x1="565.30" y1="750.7" x2="565.30" y2="754.2" stroke="#777" stroke-width="1.1"/>
<text x="565.30" y="765.8" font-size="11.5" fill="#222" text-anchor="middle" >600</text>
<line x1="620.40" y1="750.7" x2="620.40" y2="754.2" stroke="#777" stroke-width="1.1"/>
<text x="620.40" y="765.8" font-size="11.5" fill="#222" text-anchor="middle" >800</text>
<line x1="427.55" y1="750.7" x2="427.55" y2="752.7" stroke="#777" stroke-width="1"/>
<line x1="482.65" y1="750.7" x2="482.65" y2="752.7" stroke="#777" stroke-width="1"/>
<line x1="537.75" y1="750.7" x2="537.75" y2="752.7" stroke="#777" stroke-width="1"/>
<line x1="592.85" y1="750.7" x2="592.85" y2="752.7" stroke="#777" stroke-width="1"/>
<rect x="424.85" y="613.30" width="5.4" height="5.4" fill="#0000ff"/>
<rect x="438.62" y="617.70" width="5.4" height="5.4" fill="#0000ff"/>
<rect x="452.40" y="609.80" width="5.4" height="5.4" fill="#0000ff"/>
<rect x="466.18" y="613.00" width="5.4" height="5.4" fill="#0000ff"/>
<rect x="479.95" y="606.70" width="5.4" height="5.4" fill="#0000ff"/>
<rect x="493.73" y="603.80" width="5.4" height="5.4" fill="#0000ff"/>
<rect x="507.50" y="594.10" width="5.4" height="5.4" fill="#0000ff"/>
<rect x="521.27" y="585.70" width="5.4" height="5.4" fill="#0000ff"/>
<rect x="535.05" y="582.50" width="5.4" height="5.4" fill="#0000ff"/>
<rect x="548.82" y="577.00" width="5.4" height="5.4" fill="#0000ff"/>
<rect x="562.60" y="580.40" width="5.4" height="5.4" fill="#0000ff"/>
<rect x="576.38" y="577.00" width="5.4" height="5.4" fill="#0000ff"/>
<rect x="590.15" y="576.50" width="5.4" height="5.4" fill="#0000ff"/>
<rect x="424.85" y="576.50" width="5.4" height="5.4" fill="#ff0000"/>
<rect x="438.62" y="588.00" width="5.4" height="5.4" fill="#ff0000"/>
<rect x="452.40" y="593.00" width="5.4" height="5.4" fill="#ff0000"/>
<rect x="466.18" y="594.10" width="5.4" height="5.4" fill="#ff0000"/>
<rect x="479.95" y="609.10" width="5.4" height="5.4" fill="#ff0000"/>
<rect x="493.73" y="609.80" width="5.4" height="5.4" fill="#ff0000"/>
<rect x="507.50" y="617.20" width="5.4" height="5.4" fill="#ff0000"/>
<rect x="521.27" y="629.00" width="5.4" height="5.4" fill="#ff0000"/>
<rect x="535.05" y="631.10" width="5.4" height="5.4" fill="#ff0000"/>
<rect x="548.82" y="629.00" width="5.4" height="5.4" fill="#ff0000"/>
<rect x="562.60" y="629.60" width="5.4" height="5.4" fill="#ff0000"/>
<rect x="576.38" y="636.10" width="5.4" height="5.4" fill="#ff0000"/>
<rect x="590.15" y="638.80" width="5.4" height="5.4" fill="#ff0000"/>
<text x="405.5" y="711.3" font-size="11.6" fill="#111" textLength="116" lengthAdjust="spacingAndGlyphs" >AFM tip approximation</text>
<rect x="416" y="719" width="5.4" height="5.4" fill="#0000ff"/>
<text x="434.7" y="726" font-size="11.6" fill="#111" textLength="25" lengthAdjust="spacingAndGlyphs" >cone</text>
<rect x="416" y="733.8" width="5.4" height="5.4" fill="#ff0000"/>
<text x="434.7" y="740.2" font-size="11.6" fill="#111" textLength="54" lengthAdjust="spacingAndGlyphs" >paraboloid</text>
<text x="436.2" y="785" font-size="14.9" fill="#111" textLength="146.7" lengthAdjust="spacingAndGlyphs" >indentation depth [nm]</text>
<text x="362.8" y="662.7" font-size="14.8" fill="#111" text-anchor="middle" textLength="74" lengthAdjust="spacingAndGlyphs" transform="rotate(-90 362.8 662.7)" >divergence</text>
<text x="323.3" y="542.2" font-size="20" fill="#000" font-weight="bold" textLength="20.6" lengthAdjust="spacingAndGlyphs" >(f)</text>
</g>
</svg></body></html>
